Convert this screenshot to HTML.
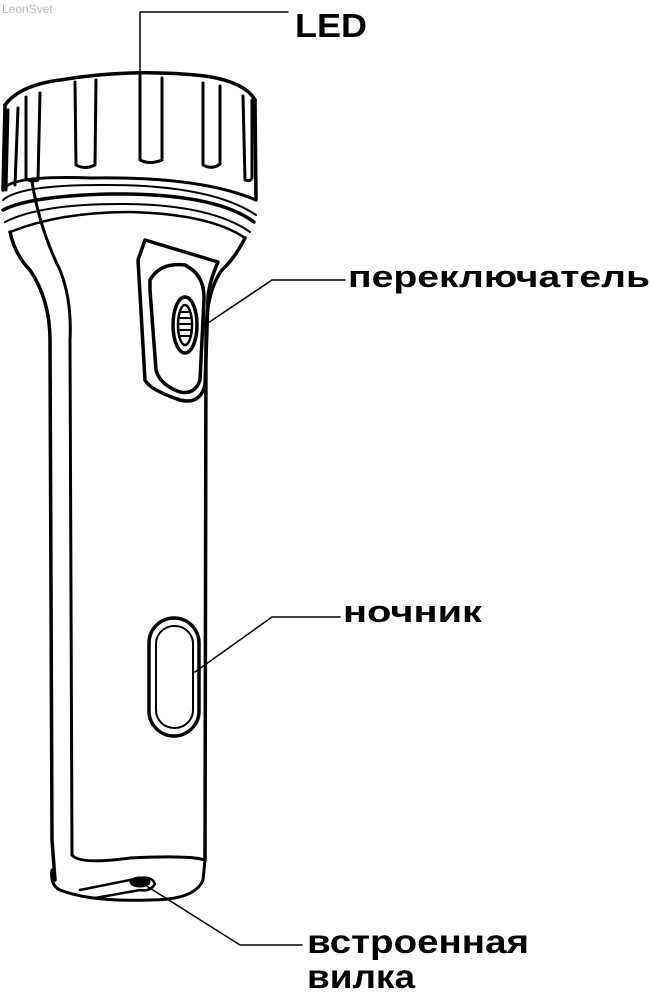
<!DOCTYPE html>
<html><head><meta charset="utf-8"><style>
html,body{margin:0;padding:0;background:#fff;}
svg{display:block}
text{font-family:"Liberation Sans",sans-serif;font-weight:bold;fill:#000}
</style></head><body>
<svg width="652" height="1000" viewBox="0 0 652 1000" xmlns="http://www.w3.org/2000/svg">
<text x="2" y="13" style="font-size:12px;fill:#bbb;font-weight:normal">LeonSvet</text>
<g fill="none" stroke="#000" stroke-linecap="round" stroke-linejoin="round">
<!-- head -->
<path d="M5,105 Q20,85 60,80 Q130,68 205,76 Q245,82 255,100" stroke-width="3.5"/>
<path d="M5,105 L3,190 M255,100 L256,200" stroke-width="3.5"/>
<path d="M3,190 Q10,175 90,178 Q200,176 256,200" stroke-width="3"/>
<path d="M3,200 Q20,185 100,185 Q210,184 256,215" stroke-width="2"/>
<path d="M3,210 Q30,196 110,194 Q215,193 254,222" stroke-width="3.5"/>
<path d="M5,222 Q40,204 120,204 Q210,204 250,232" stroke-width="2"/>
<path d="M10,232 Q60,212 130,212 Q210,214 245,238" stroke-width="2.5"/>
<!-- flutes -->
<g stroke-width="3">
<path d="M8,110 L6,190"/><path d="M18,108 L15,185"/>
<path d="M26,97 L26,178 Q30,183 38,180 L40,93"/>
<path d="M75,82 L76,165 Q85,170 95,165 L96,80"/>
<path d="M140,76 L140,160 Q150,165 162,160 L162,78"/>
<path d="M203,83 L203,165 Q212,170 220,164 L220,86"/>
<path d="M243,96 L245,180 Q250,182 252,178 L252,100"/>
</g>
<!-- body -->
<path d="M10,232 Q15,255 30,270 Q50,300 50,340 L52,840 L55,880" stroke-width="3.5"/>
<path d="M32,182 Q40,230 60,270 Q72,300 70,340 L72,855" stroke-width="3"/>
<path d="M245,238 Q235,258 222,270 Q207,290 206,330 L205,860" stroke-width="3.5"/>
<!-- bottom -->
<path d="M72,855 Q80,865 130,858 Q190,855 205,860 L203,880 Q195,900 150,900 Q90,902 60,890 Q50,885 52,870" stroke-width="3"/>
<path d="M80,890 L140,878 Q152,876 155,884 Q150,892 140,890 L95,898" stroke-width="2.5"/>
<ellipse cx="140" cy="882" rx="10" ry="5" fill="#000" stroke-width="1"/>
<!-- switch housing -->
<path d="M145,240 L218,262 Q208,285 208,300 L205,385 Q200,405 180,400 Q150,390 145,380 L138,260 Z" stroke-width="3.5"/>
<path d="M150,280 Q160,262 185,265 Q205,275 204,300 L200,380 Q195,395 180,392 Q160,385 156,370 L150,290 Z" stroke-width="3.5"/>
<ellipse cx="185" cy="325" rx="12" ry="28" stroke-width="3.5"/>
<ellipse cx="185" cy="325" rx="7" ry="20" stroke-width="2.5"/>
<path d="M180,312 h10 M180,318 h10 M180,324 h10 M180,330 h10 M180,336 h10" stroke-width="2"/>
<!-- night light -->
<rect x="149" y="618" width="50" height="118" rx="25" stroke-width="3.5"/>
<rect x="156" y="626" width="37" height="102" rx="18" stroke-width="2"/>
<!-- leaders -->
<path d="M140,72 L140,12 L288,12" stroke-width="1.5"/>
<path d="M205,325 L272,280 L345,280" stroke-width="1.5"/>
<path d="M195,672 L272,617 L340,617" stroke-width="1.5"/>
<path d="M145,885 L240,945 L302,945" stroke-width="1.5"/>
</g>
<text x="295" y="37" style="font-size:33px" textLength="72" lengthAdjust="spacingAndGlyphs">LED</text>
<text x="348" y="287" style="font-size:31px" textLength="302" lengthAdjust="spacingAndGlyphs">переключатель</text>
<text x="343" y="622" style="font-size:31px" textLength="139" lengthAdjust="spacingAndGlyphs">ночник</text>
<text x="307" y="953" style="font-size:33px" textLength="222" lengthAdjust="spacingAndGlyphs">встроенная</text>
<text x="307" y="988" style="font-size:33px" textLength="108" lengthAdjust="spacingAndGlyphs">вилка</text>
</svg>
</body></html>
